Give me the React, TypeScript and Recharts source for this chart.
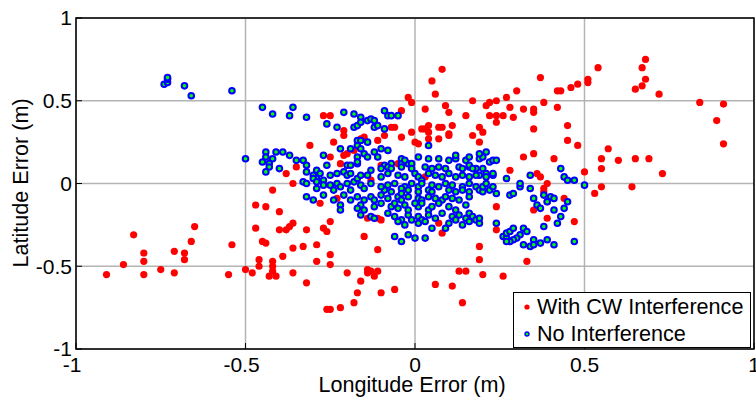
import React from 'react'
import { ScatterChart, Scatter, XAxis, YAxis, CartesianGrid, ReferenceArea, Legend } from 'recharts'

// [longitude error, latitude error] in metres
const withCW: [number, number][] = [
  [-0.91, -0.55], [-0.86, -0.49], [-0.83, -0.31], [-0.8, -0.42], [-0.8, -0.47], [-0.8, -0.55], [-0.75, -0.52],
  [-0.71, -0.41], [-0.71, -0.54], [-0.68, -0.46], [-0.68, -0.42], [-0.66, -0.35], [-0.65, -0.26], [-0.55, -0.55],
  [-0.54, -0.37], [-0.5, -0.52], [-0.48, -0.54], [-0.47, -0.13], [-0.47, -0.27], [-0.46, -0.5], [-0.46, -0.46],
  [-0.45, -0.35], [-0.44, -0.14], [-0.44, -0.36], [-0.42, -0.04], [-0.42, -0.5], [-0.42, -0.53], [-0.41, -0.56],
  [-0.43, -0.56], [-0.42, -0.47], [-0.4, -0.17], [-0.4, -0.28], [-0.39, -0.44], [-0.38, -0.28], [-0.37, -0.26],
  [-0.36, -0.24], [-0.36, -0.39], [-0.36, -0.54], [-0.36, 0.0], [-0.33, -0.38], [-0.32, -0.28], [-0.32, -0.6],
  [-0.28, -0.12], [-0.23, -0.09], [-0.27, -0.27], [-0.26, -0.29], [-0.25, -0.23], [-0.29, -0.37], [-0.29, -0.47],
  [-0.25, -0.43], [-0.25, -0.49], [-0.2, -0.54], [-0.15, -0.32], [-0.11, -0.4], [-0.14, -0.52], [-0.14, -0.54],
  [-0.13, -0.53], [-0.11, -0.53], [-0.12, -0.56], [-0.16, -0.59], [-0.17, -0.66], [-0.1, -0.66], [-0.06, -0.64],
  [-0.18, -0.72], [-0.22, -0.75], [-0.26, -0.76], [-0.25, -0.76], [-0.14, -0.21], [-0.11, -0.21], [-0.1, -0.22],
  [0.06, -0.61], [0.11, -0.62], [0.13, -0.53], [0.15, -0.53], [0.14, -0.72], [0.2, -0.55], [0.26, -0.56],
  [0.19, -0.38], [0.19, -0.46], [0.24, -0.14], [0.24, -0.28], [0.33, -0.47], [0.35, -0.16], [0.39, -0.21],
  [0.39, -0.11], [0.07, -0.24], [0.08, -0.3], [0.38, -0.03], [0.38, -0.05], [0.44, -0.09], [0.47, -0.23],
  [0.53, -0.06], [0.55, -0.02],
  [0.08, 0.69], [0.05, 0.62], [0.06, 0.54], [-0.02, 0.52], [-0.01, 0.49], [0.03, 0.45], [0.09, 0.47], [0.1, 0.43],
  [0.15, 0.41], [0.17, 0.5], [0.21, 0.47], [0.22, 0.49], [0.24, 0.5], [0.27, 0.52], [0.3, 0.56], [0.28, 0.46],
  [0.22, 0.41], [0.24, 0.41], [0.26, 0.41], [0.29, 0.4], [0.32, 0.45], [0.35, 0.45], [0.35, 0.43], [0.37, 0.64],
  [0.38, 0.49], [0.24, 0.37], [0.35, 0.33], [-0.27, 0.41], [-0.25, 0.41], [-0.04, 0.44], [-0.21, 0.32],
  [-0.21, 0.29], [-0.24, 0.25], [-0.31, 0.23], [-0.06, 0.34], [-0.07, 0.34], [-0.04, 0.28], [-0.01, 0.31],
  [0.02, 0.33], [0.03, 0.33], [0.04, 0.35], [0.04, 0.31], [0.07, 0.34], [0.08, 0.34], [0.11, 0.35], [0.1, 0.3],
  [0.1, 0.29], [0.07, 0.27], [0.0, 0.25], [0.01, 0.24], [0.04, 0.27], [0.19, 0.34], [0.2, 0.31], [0.17, 0.29],
  [0.19, 0.25], [-0.16, 0.27], [-0.15, 0.28], [-0.21, 0.17], [-0.2, 0.18], [-0.18, 0.2], [-0.25, 0.16],
  [-0.22, 0.12], [-0.09, 0.29], [-0.11, 0.26], [0.32, 0.16], [0.35, 0.18], [0.28, 0.08], [0.36, 0.06],
  [0.37, 0.04], [0.39, 0.0], [0.42, 0.46], [0.45, 0.35], [0.45, 0.26], [0.48, 0.23], [0.41, 0.15], [0.5, 0.07],
  [0.55, 0.09], [0.55, 0.15], [0.57, 0.21], [0.42, 0.56], [0.43, 0.56], [0.46, 0.58], [0.48, 0.6], [0.51, 0.61],
  [0.51, 0.63], [0.54, 0.7], [0.68, 0.75], [0.67, 0.7], [0.68, 0.63], [0.65, 0.57], [0.67, 0.59], [0.72, 0.54],
  [0.84, 0.49], [0.91, 0.48], [0.89, 0.38], [0.91, 0.24], [0.6, 0.14], [0.65, 0.15], [0.69, 0.15], [0.73, 0.06],
  [0.64, -0.02], [-0.35, 0.1], [-0.38, 0.06], [-0.1, 0.11], [-0.05, 0.12], [0.03, 0.04], [-0.13, 0.02],
]

const noInterference: [number, number][] = [
  [-0.74, 0.6], [-0.73, 0.61], [-0.73, 0.63], [-0.73, 0.64], [-0.68, 0.59], [-0.66, 0.53], [-0.54, 0.56],
  [-0.5, 0.15], [-0.45, 0.46], [-0.42, 0.42], [-0.36, 0.46], [-0.37, 0.41], [-0.32, 0.4], [-0.44, 0.19],
  [-0.44, 0.16], [-0.45, 0.13], [-0.42, 0.15], [-0.43, 0.12], [-0.43, 0.1], [-0.44, 0.07], [-0.41, 0.19],
  [-0.39, 0.19], [-0.37, 0.17], [-0.4, 0.09], [-0.35, 0.14], [-0.33, 0.14], [-0.32, 0.11], [-0.32, 0.07],
  [-0.33, 0.01],
  [-0.26, 0.36], [-0.23, 0.34], [-0.21, 0.43], [-0.18, 0.42], [-0.18, 0.34], [-0.17, 0.35], [-0.17, 0.26],
  [-0.17, 0.23], [-0.22, 0.21], [-0.19, 0.21], [-0.17, 0.16], [-0.27, 0.17], [-0.26, 0.11], [-0.2, 0.11],
  [-0.19, 0.11], [-0.17, 0.12], [-0.3, 0.05], [-0.29, 0.08], [-0.28, 0.06], [-0.29, 0.03], [-0.3, 0.03],
  [-0.29, 0.01], [-0.27, 0.02], [-0.25, 0.05], [-0.23, 0.06], [-0.21, 0.07], [-0.2, 0.05], [-0.19, 0.06],
  [-0.25, -0.01], [-0.23, 0.0], [-0.2, 0.0], [-0.18, 0.01], [-0.17, 0.03],
  [-0.16, 0.4], [-0.16, 0.37], [-0.14, 0.38], [-0.13, 0.39], [-0.12, 0.38], [-0.12, 0.34], [-0.11, 0.35],
  [-0.09, 0.44], [-0.08, 0.41], [-0.07, 0.41], [-0.05, 0.41], [-0.09, 0.33], [-0.16, 0.26], [-0.14, 0.25],
  [-0.16, 0.21], [-0.15, 0.18], [-0.14, 0.16], [-0.12, 0.19], [-0.11, 0.16], [-0.08, 0.2], [0.04, 0.23],
  [-0.1, 0.21], [-0.17, 0.13], [-0.16, 0.05], [-0.13, 0.08], [-0.09, 0.11], [-0.07, 0.12], [-0.04, 0.12],
  [-0.04, 0.15], [-0.1, 0.09], [-0.08, 0.06], [-0.1, 0.04], [-0.02, 0.12], [-0.01, 0.12], [0.01, 0.16],
  [-0.01, 0.09], [0.0, 0.06], [0.01, 0.04], [0.02, 0.02],
  [-0.03, 0.14], [0.04, 0.15], [0.07, 0.15], [0.1, 0.14], [0.12, 0.15], [0.15, 0.14], [0.16, 0.16], [0.19, 0.15],
  [0.21, 0.19], [0.2, 0.16], [0.22, 0.13], [0.23, 0.14], [0.2, 0.09], [0.21, 0.06], [0.23, 0.05], [0.19, 0.05],
  [-0.08, 0.1], [-0.07, 0.09], [-0.04, 0.1], [0.03, 0.1], [0.05, 0.09], [0.07, 0.1], [0.09, 0.09], [0.13, 0.1],
  [0.14, 0.09], [0.16, 0.1], [0.18, 0.09],
  [-0.14, 0.05], [-0.05, 0.05], [-0.03, 0.04], [0.04, 0.06], [0.06, 0.05], [0.08, 0.04], [0.1, 0.06], [0.12, 0.04],
  [0.14, 0.05], [0.16, 0.04], [0.18, 0.05],
  [-0.16, -0.01], [-0.13, 0.0], [-0.08, -0.01], [-0.06, 0.0], [-0.03, -0.02], [-0.01, 0.0], [0.01, -0.02],
  [0.02, 0.0], [0.05, -0.01], [0.07, -0.02], [0.09, 0.0], [0.11, -0.01], [0.14, -0.02], [0.16, 0.0], [0.18, -0.02],
  [-0.09, -0.04], [-0.07, -0.05], [-0.02, -0.04], [0.01, -0.05], [0.04, -0.04], [0.05, -0.05], [0.1, -0.04],
  [0.12, -0.05], [0.14, -0.04], [0.16, -0.05], [0.19, -0.04], [0.2, -0.05],
  [-0.17, -0.08], [-0.15, -0.1], [-0.13, -0.08], [-0.08, -0.09], [-0.05, -0.08], [-0.04, -0.1], [-0.02, -0.08],
  [0.01, -0.09], [0.02, -0.1], [0.04, -0.08], [0.06, -0.09], [0.08, -0.1], [0.09, -0.08], [0.11, -0.09],
  [0.13, -0.1], [0.16, -0.08],
  [-0.16, -0.13], [-0.12, -0.14], [-0.1, -0.12], [-0.07, -0.14], [-0.06, -0.12], [-0.03, -0.13], [0.01, -0.14],
  [0.02, -0.12], [0.04, -0.16], [0.05, -0.14], [0.07, -0.12], [0.1, -0.14], [0.12, -0.16], [0.15, -0.13],
  [-0.16, -0.19], [-0.13, -0.2], [-0.08, -0.18], [-0.06, -0.2], [-0.04, -0.22], [-0.02, -0.19], [0.01, -0.2],
  [0.02, -0.22], [0.04, -0.19], [0.06, -0.21], [0.08, -0.18], [0.11, -0.2], [0.12, -0.22], [0.13, -0.19],
  [0.15, -0.21], [0.16, -0.18], [0.17, -0.2], [0.18, -0.22],
  [-0.05, -0.23], [-0.03, -0.25], [0.01, -0.24], [0.03, -0.23], [0.1, -0.24], [0.14, -0.25], [0.16, -0.23],
  [0.19, -0.24], [0.05, -0.27], [0.09, -0.27], [-0.06, -0.32], [-0.02, -0.31], [-0.04, -0.35], [0.0, -0.33],
  [0.03, -0.33],
  [-0.32, 0.0], [-0.29, -0.03], [-0.27, -0.01], [-0.24, -0.04], [-0.22, -0.02], [-0.19, -0.04], [-0.15, -0.03],
  [-0.1, -0.02], [-0.04, -0.03], [-0.32, -0.08], [-0.3, -0.1], [-0.27, -0.07], [-0.24, -0.1], [-0.21, -0.07],
  [-0.19, -0.1], [-0.12, -0.1], [-0.1, -0.07], [-0.04, -0.06], [-0.22, -0.13], [-0.22, -0.16], [-0.17, -0.15],
  [-0.15, -0.16], [-0.05, -0.15], [-0.02, -0.16], [0.0, -0.12], [-0.12, -0.21], [-0.01, -0.22],
  [0.2, -0.02], [0.22, -0.04], [0.23, -0.02], [0.24, -0.06], [0.28, -0.07], [0.29, -0.06], [0.31, -0.02],
  [0.34, -0.03], [0.35, -0.09], [0.36, -0.13], [0.37, -0.15], [0.38, -0.07], [0.39, -0.11], [0.4, -0.08],
  [0.41, -0.09], [0.41, -0.16], [0.44, -0.15], [0.45, -0.11], [0.43, -0.2], [0.38, -0.26], [0.42, -0.24],
  [0.5, -0.01], [0.47, -0.35], [0.24, -0.24], [0.26, -0.32], [0.27, -0.33], [0.27, -0.3], [0.28, -0.29],
  [0.29, -0.27], [0.31, -0.31], [0.32, -0.27], [0.3, -0.33], [0.29, -0.34], [0.28, -0.35], [0.27, -0.35],
  [0.32, -0.37], [0.34, -0.38], [0.35, -0.34], [0.35, -0.37], [0.37, -0.36], [0.39, -0.34], [0.41, -0.37],
  [0.27, 0.03], [0.31, 0.0], [0.34, 0.05], [0.43, 0.09], [0.44, 0.04], [0.45, 0.02], [0.47, 0.02], [0.21, 0.0],
  [0.33, -0.29], [0.19, -0.21], [0.12, 0.17], [0.19, 0.18], [0.24, 0.14], [0.16, 0.11], [0.17, 0.09],
  [0.21, 0.04], [0.23, 0.06],
]

const xTicks = [-1, -0.5, 0, 0.5, 1]
const yTicks = [-1, -0.5, 0, 0.5, 1]
const seriesNames = ['With CW Interference', 'No Interference']
const xTitle = 'Longitude Error (m)'
const yTitle = 'Latitude Error (m)'

const font = '"Liberation Sans", Arial, Helvetica, sans-serif'

const toPoints = (list: [number, number][]) => list.map(([lon, lat]) => ({ lon, lat }))

const RedDot = (props: any) => <circle cx={props.cx} cy={props.cy} r={3.6} fill="#ff0000" />
const BlueRing = (props: any) => (
  <circle cx={props.cx} cy={props.cy} r={2.8} fill="#00ff00" stroke="#0000ff" strokeWidth={2} />
)

const XTick = ({ x, y, payload }: any) => (
  <text
    x={x + (payload.value < 0 ? -4 : 0)}
    y={y}
    dy={15}
    textAnchor="middle"
    fill="#000"
    fontSize={21}
    fontFamily={font}
  >
    {payload.value}
  </text>
)

// legend order follows seriesNames (red first), matching the figure
const LegendBox = () => (
  <div
    style={{
      width: 238,
      height: 56,
      boxSizing: 'border-box',
      border: '1px solid #000',
      background: '#fff',
      fontFamily: font,
      fontSize: 21.6,
      lineHeight: '27px',
      color: '#000',
    }}
  >
    {seriesNames.map((name, i) => (
      <div key={name} style={{ display: 'flex', alignItems: 'center', height: 27, whiteSpace: 'nowrap' }}>
        <svg width={8} height={8} style={{ marginLeft: 9, marginRight: 6 }}>
          {i === 0 ? (
            <circle cx={4} cy={4} r={2.6} fill="#ff0000" />
          ) : (
            <circle cx={4} cy={4} r={2} fill="#00ff00" stroke="#0000ff" strokeWidth={1.4} />
          )}
        </svg>
        <span>{name}</span>
      </div>
    ))}
  </div>
)

export default function App() {
  return (
    <div style={{ position: 'absolute', left: 0, top: 0, width: 756, height: 401, background: '#fff' }}>
      <ScatterChart width={756} height={401} margin={{ top: 18, right: 2, bottom: 0, left: 0 }}>
        <CartesianGrid stroke="#b4b4b4" strokeWidth={1.5} />
        <XAxis
          type="number"
          dataKey="lon"
          domain={[-1, 1]}
          ticks={xTicks}
          height={52}
          axisLine={false}
          tickSize={-6}
          tickMargin={14}
          tickLine={{ stroke: '#000' }}
          tick={<XTick />}
          interval={0}
          label={() => (
            <text x={412} y={392} textAnchor="middle" fill="#000" fontSize={21.6} fontFamily={font}>
              {xTitle}
            </text>
          )}
        />
        <XAxis
          xAxisId="top"
          orientation="top"
          type="number"
          dataKey="lon"
          domain={[-1, 1]}
          ticks={xTicks}
          height={0}
          axisLine={false}
          tickSize={-6}
          tickLine={{ stroke: '#000' }}
          tick={false}
        />
        <YAxis
          type="number"
          dataKey="lat"
          domain={[-1, 1]}
          ticks={yTicks}
          width={76}
          axisLine={false}
          tickSize={-6}
          tickMargin={10}
          tickLine={{ stroke: '#000' }}
          tick={{ fill: '#000', fontSize: 21, fontFamily: font }}
          interval={0}
          label={() => (
            <text
              x={28}
              y={183}
              transform="rotate(-90 28 183)"
              textAnchor="middle"
              fill="#000"
              fontSize={21.6}
              fontFamily={font}
            >
              {yTitle}
            </text>
          )}
        />
        <YAxis
          yAxisId="right"
          orientation="right"
          type="number"
          dataKey="lat"
          domain={[-1, 1]}
          ticks={yTicks}
          width={0}
          axisLine={false}
          tickSize={-6}
          tickLine={{ stroke: '#000' }}
          tick={false}
        />
        <ReferenceArea x1={-1} x2={1} y1={-1} y2={1} fill="none" stroke="#000" strokeWidth={1.5} ifOverflow="visible" />
        <Scatter
          name={seriesNames[0]}
          data={toPoints(withCW)}
          fill="#ff0000"
          shape={RedDot}
          isAnimationActive={false}
        />
        <Scatter
          name={seriesNames[1]}
          data={toPoints(noInterference)}
          fill="#0000ff"
          shape={BlueRing}
          isAnimationActive={false}
        />
        <Legend
          layout="vertical"
          align="center"
          verticalAlign="middle"
          content={<LegendBox />}
          wrapperStyle={{ left: 513, top: 292, width: 238, height: 56 }}
        />
      </ScatterChart>
    </div>
  )
}
